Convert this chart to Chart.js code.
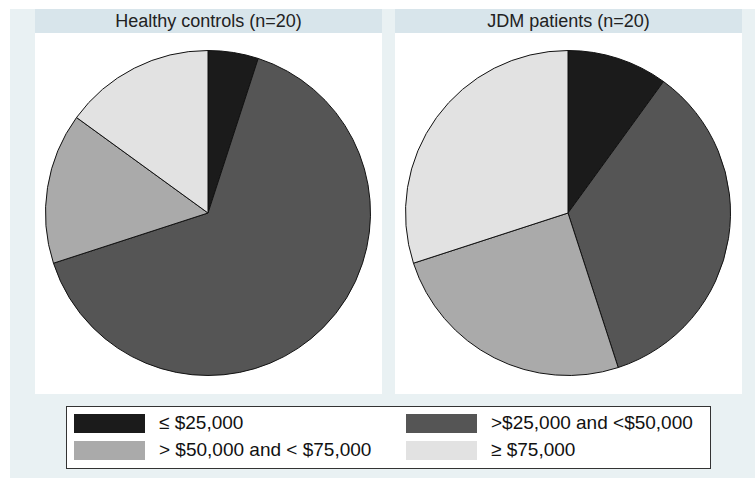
<!DOCTYPE html>
<html>
<head>
<meta charset="utf-8">
<script src="https://cdn.jsdelivr.net/npm/chart.js@4.4.1/dist/chart.umd.min.js"></script>
<style>
  body { margin: 0; background: #fff; font-family: "Liberation Sans", Arial, sans-serif; }
  #page { position: relative; width: 755px; height: 478px; overflow: hidden; }
  #bg { position: absolute; left: 10px; top: 9px; width: 745px; height: 469px; background: #e9f1f3; }
  .panel { position: absolute; top: 9px; width: 347px; height: 385px; background: #fff; }
  .panel .hdr { height: 24px; background: #d8e5eb; color: #222; font-size: 18px; text-align: center; line-height: 25px; }
  .panel canvas { position: absolute; left: 10px; top: 41px; }
  #legend { position: absolute; left: 66px; top: 406px; width: 643px; height: 61px; background: #fff; border: 1px solid #333; }
  .item { position: absolute; height: 20px; }
  .sw { position: absolute; left: 0; top: 0; width: 71px; height: 19px; }
  .lbl { position: absolute; left: 85px; top: -2px; font-size: 19px; color: #111; white-space: nowrap; line-height: 22px; }
</style>
</head>
<body>
<div id="page">
  <div id="bg"></div>
  <div class="panel" style="left:35px"><div class="hdr" id="t0"></div><canvas id="c0" width="326" height="326"></canvas></div>
  <div class="panel" style="left:395px"><div class="hdr" id="t1"></div><canvas id="c1" width="326" height="326"></canvas></div>
  <div id="legend"></div>
</div>
<script>
// income groups
const categories = ['\u2264 $25,000', '>$25,000 and <$50,000', '> $50,000 and < $75,000', '\u2265 $75,000'];
const colors = ['#1b1b1b', '#555555', '#aaaaaa', '#e2e2e2'];

// counts per group (n=20 each)
const healthyControls = [1, 13, 3, 3];
const jdmPatients = [2, 7, 5, 6];

const panelTitles = ['Healthy controls (n=20)', 'JDM patients (n=20)'];
const series = [healthyControls, jdmPatients];

series.forEach(function(values, i) {
    document.getElementById('t' + i).textContent = panelTitles[i];
    new Chart(document.getElementById('c' + i), {
        type: 'pie',
        data: {
            labels: categories,
            datasets: [{
                data: values,
                backgroundColor: colors,
                borderColor: '#111',
                borderWidth: 1
            }]
        },
        options: {
            responsive: false,
            animation: false,
            devicePixelRatio: 1,
            layout: { padding: 0 },
            plugins: {
                legend: { display: false },
                tooltip: { enabled: false }
            }
        }
    });
});

// legend in two columns
const legend = document.getElementById('legend');
const pos = [[7, 7], [339, 7], [7, 34], [339, 34]];
categories.forEach(function(cat, i) {
    const item = document.createElement('div');
    item.className = 'item';
    item.style.left = pos[i][0] + 'px';
    item.style.top = pos[i][1] + 'px';
    item.innerHTML = '<div class="sw" style="background:' + colors[i] + '"></div><div class="lbl"></div>';
    item.querySelector('.lbl').textContent = cat;
    legend.appendChild(item);
});
</script>
</body>
</html>
